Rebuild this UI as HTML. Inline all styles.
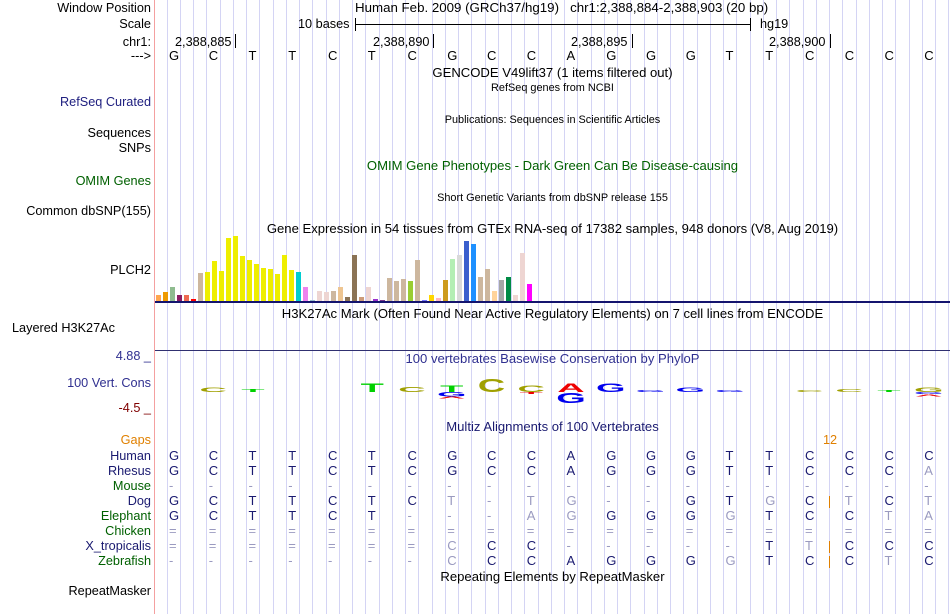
<!DOCTYPE html>
<html><head><meta charset="utf-8"><style>
html,body{margin:0;padding:0;background:#fff;}
#root{position:relative;width:950px;height:614px;overflow:hidden;font-family:"Liberation Sans",sans-serif;}
.t{position:absolute;white-space:nowrap;font-size:12.7px;line-height:14px;color:#000;}
.c{font-size:13.1px;}
.lbl{position:absolute;right:799px;white-space:nowrap;font-size:12.7px;line-height:14px;text-align:right;}
.sm{font-size:10.9px;}
</style></head><body>
<div id="root">
<svg id="grid" width="950" height="614" style="position:absolute;left:0;top:0"></svg>
<div style="position:absolute;left:154px;top:0;width:1px;height:614px;background:#f4a0a0"></div>

<div class="lbl" style="top:1px">Window Position</div>
<div class="lbl" style="top:17px">Scale</div>
<div class="lbl" style="top:35px">chr1:</div>
<div class="lbl" style="top:49px">---&gt;</div>
<div class="lbl" style="top:95px;color:#202080">RefSeq Curated</div>
<div class="lbl" style="top:126px">Sequences</div>
<div class="lbl" style="top:141px">SNPs</div>
<div class="lbl" style="top:174px;color:#006000">OMIM Genes</div>
<div class="lbl" style="top:204px">Common dbSNP(155)</div>
<div class="lbl" style="top:263px">PLCH2</div>
<div class="t" style="left:12px;top:321px">Layered H3K27Ac</div>
<div class="lbl" style="top:349px;color:#303090">4.88 _</div>
<div class="lbl" style="top:376px;color:#303090">100 Vert. Cons</div>
<div class="lbl" style="top:401px;color:#800000">-4.5 _</div>
<div class="lbl" style="top:433px;color:#e08000">Gaps</div>
<div class="lbl" style="top:584px">RepeatMasker</div>

<div class="t" style="left:355px;top:1px;font-size:13.3px">Human Feb. 2009 (GRCh37/hg19)&nbsp;&nbsp;&nbsp;chr1:2,388,884-2,388,903 (20 bp)</div>
<div class="t" style="left:298px;top:17px">10 bases</div>
<div style="position:absolute;left:355px;top:24px;width:396px;height:1px;background:#000"></div>
<div style="position:absolute;left:355px;top:18px;width:1px;height:13px;background:#000"></div>
<div style="position:absolute;left:750px;top:18px;width:1px;height:13px;background:#000"></div>
<div class="t" style="left:760px;top:17px">hg19</div>

<div class="t" style="left:175px;top:35px">2,388,885</div>
<div style="position:absolute;left:235px;top:34px;width:1px;height:14px;background:#000"></div>
<div class="t" style="left:373px;top:35px">2,388,890</div>
<div style="position:absolute;left:433px;top:34px;width:1px;height:14px;background:#000"></div>
<div class="t" style="left:571px;top:35px">2,388,895</div>
<div style="position:absolute;left:632px;top:34px;width:1px;height:14px;background:#000"></div>
<div class="t" style="left:769px;top:35px">2,388,900</div>
<div style="position:absolute;left:830px;top:34px;width:1px;height:14px;background:#000"></div>

<div id="bases"></div>
<div class="t c" style="left:155px;width:795px;text-align:center;top:66px">GENCODE V49lift37 (1 items filtered out)</div>
<div class="t sm" style="left:155px;width:795px;text-align:center;top:81px">RefSeq genes from NCBI</div>
<div class="t sm" style="left:155px;width:795px;text-align:center;top:113px">Publications: Sequences in Scientific Articles</div>
<div class="t c" style="left:155px;width:795px;text-align:center;top:159px;color:#006000">OMIM Gene Phenotypes - Dark Green Can Be Disease-causing</div>
<div class="t sm" style="left:155px;width:795px;text-align:center;top:191px">Short Genetic Variants from dbSNP release 155</div>
<div class="t c" style="left:155px;width:795px;text-align:center;top:222px">Gene Expression in 54 tissues from GTEx RNA-seq of 17382 samples, 948 donors (V8, Aug 2019)</div>
<svg id="gtex" width="950" height="614" style="position:absolute;left:0;top:0"></svg>
<div style="position:absolute;left:155px;top:301px;width:795px;height:2px;background:#14146e"></div>
<div class="t c" style="left:155px;width:795px;text-align:center;top:307px">H3K27Ac Mark (Often Found Near Active Regulatory Elements) on 7 cell lines from ENCODE</div>
<div style="position:absolute;left:155px;top:350px;width:795px;height:1px;background:#303070"></div>
<div class="t c" style="left:155px;width:795px;text-align:center;top:352px;color:#303090">100 vertebrates Basewise Conservation by PhyloP</div>
<svg id="cons" width="950" height="614" style="position:absolute;left:0;top:0"></svg>
<div class="t c" style="left:155px;width:795px;text-align:center;top:420px;color:#1a1a70">Multiz Alignments of 100 Vertebrates</div>
<div class="t" style="left:823px;top:433px;color:#e08000">12</div>
<div id="aln"></div>
<div class="t c" style="left:155px;width:795px;text-align:center;top:570px">Repeating Elements by RepeatMasker</div>
</div>
<script>
const NS="http://www.w3.org/2000/svg";
const X0=173.5, P=39.75;
function colX(i){return X0+P*i;}
const grid=document.getElementById('grid');
for(let x=166.5;x<950;x+=13.25){
  const l=document.createElementNS(NS,'rect');
  l.setAttribute('x',Math.round(x));l.setAttribute('y',0);l.setAttribute('width',1);l.setAttribute('height',614);l.setAttribute('fill','#d4d4f4');
  
  
  grid.appendChild(l);
}
const refBases="GCTTCTCGCCAGGGTTCCCC".split('');
const bdiv=document.getElementById('bases');
refBases.forEach((b,i)=>{
  const d=document.createElement('div');d.className='t';d.textContent=b;d.style.fontSize='13px';
  d.style.left=(colX(i)-4.5)+'px';d.style.top='49px';
  
  
  bdiv.appendChild(d);
});
const gtexValues=[6,9,14,6,6,2,28,29,40,30,63,65,45,41,37,33,32,27,46,31,29,14,1,10,9,10,14,4,46,4,14,2,1,23,20,22,20,41,1,6,3,21,42,46,60,57,24,32,10,21,24,6,48,17];
const gtexColors=["#FFA54F","#EE9A00","#8FBC8F","#8B1C62","#EE6A50","#FF0000","#CDB79E","#EEEE00","#EEEE00","#EEEE00","#EEEE00","#EEEE00","#EEEE00","#EEEE00","#EEEE00","#EEEE00","#EEEE00","#EEEE00","#EEEE00","#EEEE00","#00CED1","#EE82EE","#9AC0CD","#EED5D2","#EED5D2","#CDB79E","#EEC591","#8B7355","#8B7355","#CD9B79","#EED5D2","#9A32CD","#7A378B","#CDB79E","#CDB79E","#CDB79E","#9ACD32","#CDB79E","#7777FF","#FFD700","#FFB6C1","#CD9B1D","#B4EEB4","#D9D9D9","#3A5FCD","#1E90FF","#CDB79E","#CDB79E","#FFD39B","#A6A6A6","#008B45","#EED5D2","#EED5D2","#FF00FF"];
const gsv=document.getElementById('gtex');
const gBase=301, gX0=156, gPitch=7.0, gScale=1;
function gy(v){return gBase-v*gScale;}
gtexValues.forEach((v,i)=>{
  const r=document.createElementNS(NS,'rect');
  r.setAttribute('x',gX0+i*gPitch);r.setAttribute('y',gy(v));r.setAttribute('width',5);r.setAttribute('height',gBase-gy(v));r.setAttribute('fill',gtexColors[i]);
  
  
  gsv.appendChild(r);
});
const consCols=[1,2,5,6,7,7,7,8,9,9,10,10,11,12,13,14,16,17,18,19,19,19];
const consLetters=["C","T","T","C","T","G","A","C","C","T","A","G","G","G","G","G","C","C","T","G","G","A"];
const consColors=["#a0a000","#00d000","#00d000","#a0a000","#00d000","#0000ee","#ee0000","#a0a000","#a0a000","#ee0000","#ee0000","#0000ee","#0000ee","#0000ee","#0000ee","#0000ee","#a0a000","#a0a000","#00d000","#a0a000","#0000ee","#ee0000"];
const consScores=[2,1.5,4,2.5,3,-2,-1,6,3,-1,4,-5,4,1,2,1,1,1.5,1,2,-1,-1];
const csv=document.getElementById('cons');
const cZero=392, cPx=2.2;
let stackPos={},stackNeg={};
consScores.forEach((s,i)=>{
  const c=consCols[i];
  const h=Math.max(2,Math.abs(s)*cPx);
  let top;
  if(s>=0){const b=stackPos[c]||cZero;top=b-h;stackPos[c]=top;}
  else{const b=stackNeg[c]||cZero;top=b;stackNeg[c]=b+h;}
  const t=document.createElementNS(NS,'text');
  t.textContent=consLetters[i];
  t.setAttribute('x',0);t.setAttribute('y',0);
  t.setAttribute('font-family','Liberation Sans, sans-serif');t.setAttribute('font-size','10');t.setAttribute('font-weight','bold');
  t.setAttribute('fill',consColors[i]);t.setAttribute('text-anchor','middle');
  t.setAttribute('transform',`translate(${colX(c)},${top+h}) scale(3.8,${h/7.3})`);
  
  
  csv.appendChild(t);
});
const species=["Human","Rhesus","Mouse","Dog","Elephant","Chicken","X_tropicalis","Zebrafish"];
const speciesColors=["#1a1a70","#1a1a70","#006000","#1a1a70","#006000","#006000","#1a1a70","#006000"];
const alnSeqs=["GCTTCTCGCCAGGGTTCCCC","GCTTCTCGCCAGGGTTCCCa","--------------------","GCTTCTCt-tg--GTgCtCt","GCTTCT---agGGGgTCCta","====================","=======cCC-----TtCCC","-------cCCAGGGgTCCtC"];
const aln=document.getElementById('aln');
species.forEach((sp,r)=>{
  const y=449+r*15;
  const l=document.createElement('div');l.className='lbl';l.textContent=sp;l.style.top=y+'px';l.style.color=speciesColors[r];
  
  
  aln.appendChild(l);
  alnSeqs[r].split('').forEach((ch,i)=>{
    const d=document.createElement('div');d.className='t';d.style.fontSize='13px';
    const light=(ch===ch.toLowerCase()&&ch!=='-'&&ch!=='=')||ch==='-'||ch==='=';
    d.textContent=ch.toUpperCase();
    d.style.color=light?'#9a9ac0':'#1a1a70';
    d.style.left=(colX(i)-4.5)+'px';d.style.top=y+'px';
    
    
    aln.appendChild(d);
  });
});
[3,6,7].forEach(r=>{
  const d=document.createElement('div');
  d.style.cssText=`position:absolute;left:829px;top:${451+r*15}px;width:1px;height:12px;background:#e08000`;
  
  
  aln.appendChild(d);
});
</script>
</body></html>
